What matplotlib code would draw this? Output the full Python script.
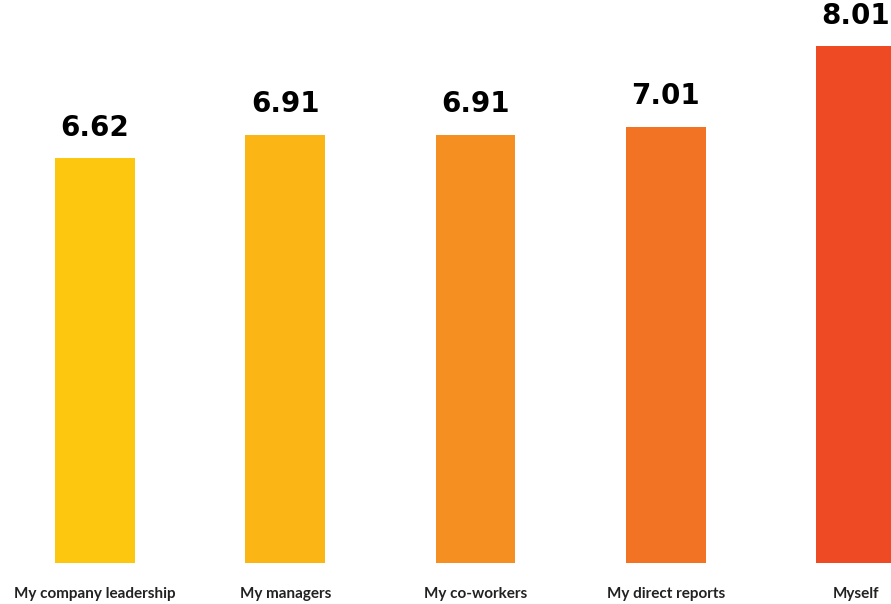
import matplotlib.pyplot as plt

# data
categories = ['My company leadership', 'My managers', 'My co-workers',
              'My direct reports', 'Myself']
scores = [6.62, 6.91, 6.91, 7.01, 8.01]
colors = ['#FDC70F', '#FBB615', '#F68F21', '#F37325', '#EE4B24']

fig = plt.figure(figsize=(8.91, 6.04), dpi=100)
ax = fig.add_axes([0, 41 / 604, 1, 563 / 604])

x = list(range(len(categories)))
bars = ax.bar(x, scores, width=0.42, color=colors)

ax.set_xlim(-95 / 190.25, (891 - 95) / 190.25)
ax.set_ylim(1.6, 8.585)

for b, v in zip(bars, scores):
    ax.annotate('%.2f' % v, (b.get_x() + b.get_width() / 2, v),
                xytext=(0, 12), textcoords='offset points',
                ha='center', va='bottom', fontsize=20,
                fontfamily='DejaVu Sans', fontweight='bold', color='black',
                annotation_clip=False)

ax.set_xticks(x)
ax.set_xticklabels(categories, fontfamily='Lato', fontweight='bold',
                   fontsize=11, color='#222222')
ax.tick_params(axis='x', length=0, pad=17)
ax.set_yticks([])
for s in ax.spines.values():
    s.set_visible(False)

fig.savefig('out.png', dpi=100)
